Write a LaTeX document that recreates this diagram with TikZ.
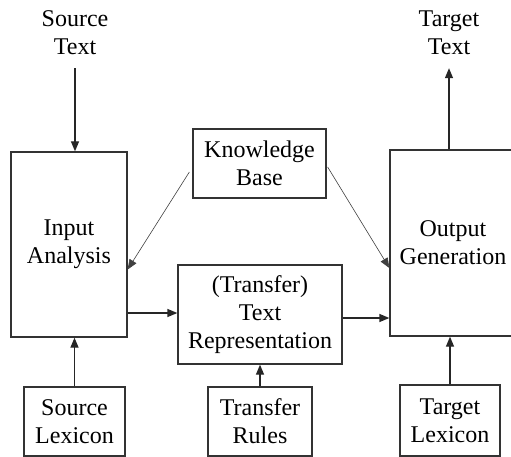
\documentclass[tikz,border=0pt]{standalone}
\usepackage{fontspec}
\setmainfont{Liberation Serif}
\usetikzlibrary{arrows.meta}
\begin{document}
\begin{tikzpicture}[x=1pt,y=-1pt,
  box/.style={draw=black!80, line width=1.3pt, align=center, inner sep=0pt,
    font=\fontsize{24}{28}\selectfont},
  lbl/.style={align=center, inner sep=0pt, font=\fontsize{24}{28}\selectfont},
  arr/.style={draw=black!85, line width=1.3pt, -{Triangle[length=10pt,width=8pt]}},
  thinarr/.style={draw=black!75, line width=0.6pt, -{Triangle[length=10pt,width=8pt]}}]
\useasboundingbox (0,0) rectangle (511,457);
\node[lbl] (srct) at (75,33) {Source\\Text};
\node[lbl] (tgtt) at (449,33) {Target\\Text};
\node[box, minimum width=116pt, minimum height=185pt] (inp) at (69,244.5) {Input\\Analysis};
\node[box, minimum width=133pt, minimum height=69pt] (kb) at (259.5,163.5) {Knowledge\\Base};
\node[box, minimum width=126pt, minimum height=186pt, text width=126pt] (out) at (453,243) {Output\\Generation};
\node[box, minimum width=164pt, minimum height=99pt] (rep) at (260,314.5) {(Transfer)\\Text\\Representation};
\node[box, minimum width=101pt, minimum height=69pt] (slex) at (74.5,421.5) {Source\\Lexicon};
\node[box, minimum width=104pt, minimum height=69pt] (rules) at (260,421.5) {Transfer\\Rules};
\node[box, minimum width=100pt, minimum height=71pt] (tlex) at (450,420.5) {Target\\Lexicon};
% connectors
\draw[arr, shorten <=13pt] (srct.south) -- (inp.north -| srct.south);
\draw[arr, shorten >=13pt] (out.north -| tgtt.south) -- (tgtt.south);
\draw[arr] (rep.west -| inp.east) ++(0,-1.5) -- ([yshift=1.5pt]rep.west);
\draw[arr] ([yshift=-3.5pt]rep.east) -- ([yshift=-3.5pt]rep.east -| out.west);
\draw[thinarr] ([yshift=-8.5pt]kb.west) ++(-3,0) -- ([yshift=-25pt]inp.east);
\draw[thinarr] ([yshift=-3.5pt]kb.east) ++(1,0) -- ([yshift=-25pt]out.west);
\draw[arr] (slex.north) -- (slex.north |- inp.south);
\draw[arr] (rules.north) -- (rep.south);
\draw[arr] (tlex.north) -- (tlex.north |- out.south);
\end{tikzpicture}
\end{document}
